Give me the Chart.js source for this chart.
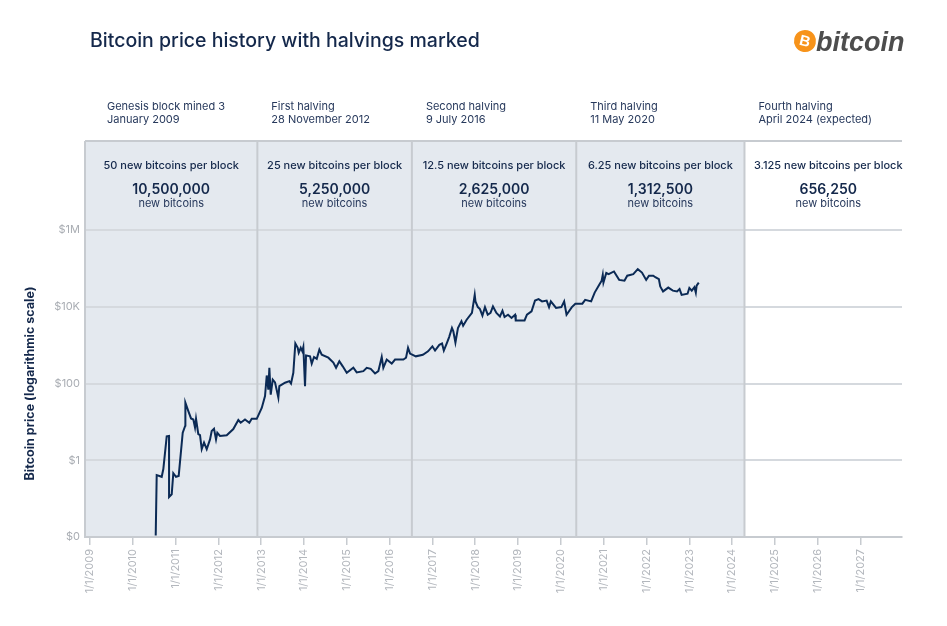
<!DOCTYPE html>
<html>
<head>
<meta charset="utf-8">
<script src="https://cdn.jsdelivr.net/npm/chart.js@4.4.0/dist/chart.umd.min.js"></script>
<style>
  body { margin: 0; background: #fff; }
  #wrap { position: relative; width: 947px; height: 626px; }
  #title { position: absolute; left: 90px; top: 28px; font: 500 19.5px Inter, sans-serif; line-height: 24px; color: #14284b; }
  #logo { position: absolute; left: 794px; top: 27px; height: 30px; }
  #logo .coin { position: absolute; left: 0; top: 3px; width: 22px; height: 22px; border-radius: 50%; background: #f7931a; color: #fff;
    font: bold 15px "Liberation Sans", sans-serif; line-height: 22px; text-align: center; transform: rotate(14deg); }
  #logo .word { position: absolute; left: 22px; top: 0; font: italic bold 27px "Liberation Sans", sans-serif; line-height: 30px; color: #4d4d4d; }
</style>
</head>
<body>
<div id="wrap">
  <canvas id="chart" width="947" height="626"></canvas>
  <div id="title">Bitcoin price history with halvings marked</div>
  <div id="logo"><span class="coin">B</span><span class="word">bitcoin</span></div>
</div>
<script>
// price line (decimal year, USD)
const priceYears = [
  2010.535, 2010.558, 2010.675, 2010.713, 2010.792, 2010.846, 2010.847, 2010.909, 2010.946, 2011.009, 2011.072, 2011.166, 2011.227, 2011.228, 2011.297, 2011.360, 2011.414, 2011.453, 2011.477, 2011.530, 2011.570, 2011.610, 2011.664, 2011.727, 2011.804, 2011.843, 2011.897, 2011.944, 2011.974,
  2012.037, 2012.194, 2012.348, 2012.465, 2012.521, 2012.621, 2012.722, 2012.778, 2012.895,
  2013.012, 2013.089, 2013.129, 2013.166, 2013.190, 2013.222, 2013.269, 2013.322, 2013.400, 2013.423, 2013.556, 2013.657, 2013.696, 2013.750, 2013.797, 2013.853, 2013.876, 2013.923, 2013.960, 2013.984,
  2014.023, 2014.047, 2014.140, 2014.180, 2014.234, 2014.297, 2014.358, 2014.414, 2014.568, 2014.685, 2014.748, 2014.825, 2014.904, 2014.998,
  2015.152, 2015.231, 2015.386, 2015.465, 2015.558, 2015.659, 2015.736, 2015.815, 2015.853, 2015.932,
  2016.049, 2016.126, 2016.320, 2016.383, 2016.430, 2016.477, 2016.612, 2016.776, 2016.897, 2016.998,
  2017.061, 2017.161, 2017.224, 2017.266, 2017.332, 2017.390, 2017.456, 2017.488, 2017.537, 2017.596, 2017.678, 2017.717, 2017.799, 2017.923, 2017.988,
  2018.005, 2018.061, 2018.110, 2018.168, 2018.227, 2018.292, 2018.357, 2018.414, 2018.495, 2018.577, 2018.636, 2018.685, 2018.766, 2018.848, 2018.930, 2018.946,
  2019.152, 2019.208, 2019.315, 2019.397, 2019.479, 2019.561, 2019.668, 2019.724, 2019.766, 2019.888,
  2020.012, 2020.077, 2020.133, 2020.257, 2020.339, 2020.502, 2020.568, 2020.708, 2020.790, 2020.897, 2020.953, 2020.979, 2020.995,
  2021.061, 2021.117, 2021.241, 2021.362, 2021.486, 2021.551, 2021.692, 2021.797, 2021.895, 2021.993,
  2022.059, 2022.159, 2022.208, 2022.290, 2022.322, 2022.388, 2022.509, 2022.617, 2022.715, 2022.773, 2022.822, 2022.960,
  2023.002, 2023.058, 2023.120, 2023.153, 2023.172, 2023.222,
];
const priceUsd = [
  0.011, 0.41, 0.37, 0.59, 4.2, 4.3, 0.11, 0.13, 0.46, 0.37, 0.39, 5.2, 8.1, 31.6, 19, 12.3, 11.5, 7.1, 12, 4.8, 4.5, 1.95, 2.9, 1.95, 3.5, 5.8, 6.6, 3.5, 5.2,
  4.3, 4.5, 6.5, 11.2, 9.5, 11.5, 9.5, 12, 12,
  23, 47, 162, 69, 257, 51, 126, 107, 43, 85, 105, 115, 100, 190, 1100, 850, 630, 850, 690, 890,
  85, 540, 510, 330, 490, 440, 760, 560, 470, 350, 257, 380, 280, 190,
  257, 195, 210, 257, 240, 182, 210, 490, 257, 420,
  330, 420, 420, 470, 850, 600, 510, 560, 690, 930,
  720, 1020, 1100, 720, 1100, 1620, 2800, 2300, 1170, 2800, 4200, 3200, 4600, 6900, 20400,
  13800, 9800, 8700, 5900, 9800, 6200, 6900, 10200, 6900, 5600, 7900, 5400, 6200, 5100, 6200, 4400,
  4400, 6200, 7600, 14500, 15800, 13800, 14500, 9800, 13800, 9300,
  9800, 13800, 6200, 9800, 12000, 12000, 15100, 13800, 23400, 37200, 47900, 67600, 42700,
  75900, 70800, 83200, 50100, 47900, 64600, 70800, 95500, 77600, 50100,
  64600, 64600, 58900, 52500, 33900, 25100, 31600, 26300, 25100, 28800, 20400, 21900,
  30900, 26300, 32400, 23400, 35500, 42700,
];

const tickYears = [2009, 2010, 2011, 2012, 2013, 2014, 2015, 2016, 2017, 2018, 2019, 2020, 2021, 2022, 2023, 2024, 2025, 2026, 2027];
const tickLabels = tickYears.map(y => '1/1/' + y);
const yTickValues = [0.01, 1, 100, 10000, 1000000];
const yTickLabels = ['$0', '$1', '$100', '$10K', '$1M'];

// eras: genesis then the four halvings
const halvingYears = [2009.0, 2012.91, 2016.52, 2020.36, 2024.29];
const halvingNames = ['Genesis block mined 3', 'First halving', 'Second halving', 'Third halving', 'Fourth halving'];
const halvingDates = ['January 2009', '28 November 2012', '9 July 2016', '11 May 2020', 'April 2024 (expected)'];
const rewardLabels = ['50 new bitcoins per block', '25 new bitcoins per block', '12.5 new bitcoins per block', '6.25 new bitcoins per block', '3.125 new bitcoins per block'];
const newCoins = ['10,500,000', '5,250,000', '2,625,000', '1,312,500', '656,250'];

const NAVY = '#14284b';
const LINE_GREY = '#c7cbd0';

function eraEdges(chart) {
  const {chartArea, scales: {x}} = chart;
  const edges = halvingYears.map((y, i) => i == 0 ? chartArea.left : x.getPixelForValue(y));
  edges.push(chartArea.right);
  return edges;
}

const halvingsPlugin = {
  id: 'halvings',
  beforeDraw(chart) {
    const {ctx, chartArea} = chart;
    const edges = eraEdges(chart);
    const top = chartArea.top - 89;
    ctx.save();
    ctx.fillStyle = '#e4e9ef';
    ctx.fillRect(edges[0], top, edges[4] - edges[0], chartArea.bottom - top);
    ctx.restore();
  },
  beforeDatasetsDraw(chart) {
    const {ctx, chartArea} = chart;
    const edges = eraEdges(chart);
    const top = chartArea.top - 89;
    ctx.save();
    ctx.strokeStyle = LINE_GREY;
    ctx.lineWidth = 2;
    ctx.beginPath();
    ctx.moveTo(chartArea.left, top);
    ctx.lineTo(chartArea.right, top);
    for (let i = 0; i < 5; i++) {
      ctx.moveTo(edges[i], top);
      ctx.lineTo(edges[i], chartArea.bottom);
    }
    ctx.stroke();

    ctx.textBaseline = 'middle';
    for (let i = 0; i < 5; i++) {
      // label above the box
      ctx.textAlign = 'left';
      ctx.fillStyle = '#27395c';
      ctx.font = '11px Inter, sans-serif';
      const lx = edges[i] + (i == 0 ? 22 : 14);
      ctx.fillText(halvingNames[i], lx, top - 34);
      ctx.fillText(halvingDates[i], lx, top - 21);

      // text inside the box (the last box runs off the right edge a little)
      const cx = (edges[i] + edges[i + 1]) / 2 + (i == 4 ? 5 : 0);
      ctx.textAlign = 'center';
      ctx.fillStyle = NAVY;
      ctx.font = '500 11px Inter, sans-serif';
      ctx.fillText(rewardLabels[i], cx, top + 25);
      ctx.font = '600 14px Inter, sans-serif';
      ctx.fillText(newCoins[i], cx, top + 49);
      ctx.font = '11px Inter, sans-serif';
      ctx.fillStyle = '#27395c';
      ctx.fillText('new bitcoins', cx, top + 63);
    }
    ctx.restore();
  },
};

const config = {
  type: 'line',
  data: {
    datasets: [
      {
        label: 'Bitcoin price',
        data: priceYears.map((y, i) => ({x: y, y: priceUsd[i]})),
        borderColor: '#0b2a55',
        borderWidth: 2,
        pointRadius: 0,
        tension: 0,
        fill: false,
      },
    ],
  },
  options: {
    responsive: false,
    animation: false,
    layout: {padding: {top: 230, right: 45, left: 0, bottom: 0}},
    plugins: {
      legend: {display: false},
      tooltip: {enabled: false},
    },
    scales: {
      x: {
        type: 'linear',
        min: 2008.883,
        max: 2027.97,
        afterBuildTicks: (s) => { s.ticks = tickYears.map(v => ({value: v})); },
        afterFit: (s) => { s.height = 89; },
        grid: {drawOnChartArea: false, drawTicks: true, tickLength: 8, color: LINE_GREY, lineWidth: 1.5},
        border: {display: true, color: LINE_GREY, width: 2},
        ticks: {
          autoSkip: false,
          minRotation: 90,
          maxRotation: 90,
          padding: 4,
          color: '#b3b7bd',
          font: {family: 'Inter, sans-serif', size: 11},
          callback: (value, index) => tickLabels[index],
        },
      },
      y: {
        type: 'logarithmic',
        min: 0.01,
        max: 1000000,
        afterBuildTicks: (s) => { s.ticks = yTickValues.map(v => ({value: v})); },
        afterFit: (s) => { s.width = 85; },
        grid: {color: '#d5d9de', lineWidth: 2, drawTicks: false},
        border: {display: false},
        ticks: {
          padding: 5,
          color: '#a9adb3',
          font: {family: 'Inter, sans-serif', size: 11},
          callback: (value, index) => yTickLabels[index],
        },
        title: {
          display: true,
          text: 'Bitcoin price (logarithmic scale)',
          color: NAVY,
          font: {family: 'Inter, sans-serif', size: 12.5, weight: 'bold'},
          padding: {top: 23, bottom: 0},
        },
      },
    },
  },
  plugins: [halvingsPlugin],
};

new Chart(document.getElementById('chart'), config);
</script>
</body>
</html>
